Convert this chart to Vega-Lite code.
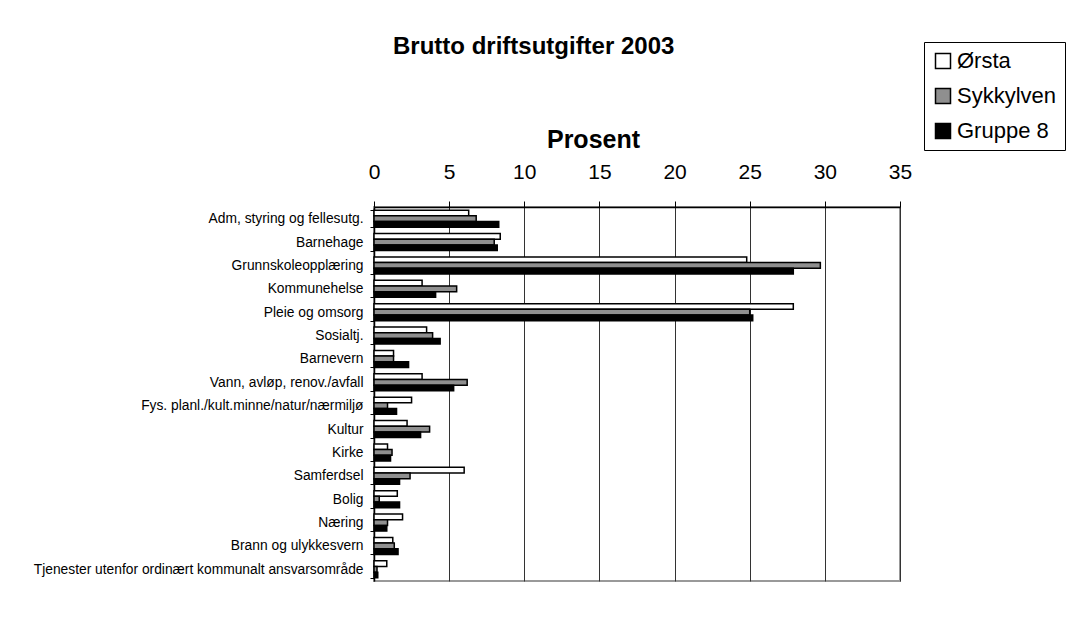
{
  "$schema": "https://vega.github.io/schema/vega-lite/v6.json",
  "width": 526,
  "height": 374,
  "autosize": {"type": "none"},
  "padding": {"left": 374, "top": 207, "right": 178, "bottom": 62},
  "background": "white",
  "title": {
    "text": "Brutto driftsutgifter 2003",
    "anchor": "start",
    "frame": "group",
    "dx": 19,
    "offset": -17,
    "fontSize": 24,
    "fontWeight": "bold",
    "font": "Liberation Sans",
    "color": "black"
  },
  "config": {
    "font": "Liberation Sans",
    "view": {"stroke": "#999999", "strokeWidth": 2}
  },
  "data": {
    "values": [
      {"kategori": "Adm, styring og fellesutg.", "serie": "Ørsta", "verdi": 6.3},
      {"kategori": "Adm, styring og fellesutg.", "serie": "Sykkylven", "verdi": 6.8},
      {"kategori": "Adm, styring og fellesutg.", "serie": "Gruppe 8", "verdi": 8.3},
      {"kategori": "Barnehage", "serie": "Ørsta", "verdi": 8.4},
      {"kategori": "Barnehage", "serie": "Sykkylven", "verdi": 8.0},
      {"kategori": "Barnehage", "serie": "Gruppe 8", "verdi": 8.2},
      {"kategori": "Grunnskoleopplæring", "serie": "Ørsta", "verdi": 24.8},
      {"kategori": "Grunnskoleopplæring", "serie": "Sykkylven", "verdi": 29.7},
      {"kategori": "Grunnskoleopplæring", "serie": "Gruppe 8", "verdi": 27.9},
      {"kategori": "Kommunehelse", "serie": "Ørsta", "verdi": 3.2},
      {"kategori": "Kommunehelse", "serie": "Sykkylven", "verdi": 5.5},
      {"kategori": "Kommunehelse", "serie": "Gruppe 8", "verdi": 4.1},
      {"kategori": "Pleie og omsorg", "serie": "Ørsta", "verdi": 27.9},
      {"kategori": "Pleie og omsorg", "serie": "Sykkylven", "verdi": 25.0},
      {"kategori": "Pleie og omsorg", "serie": "Gruppe 8", "verdi": 25.2},
      {"kategori": "Sosialtj.", "serie": "Ørsta", "verdi": 3.5},
      {"kategori": "Sosialtj.", "serie": "Sykkylven", "verdi": 3.9},
      {"kategori": "Sosialtj.", "serie": "Gruppe 8", "verdi": 4.4},
      {"kategori": "Barnevern", "serie": "Ørsta", "verdi": 1.3},
      {"kategori": "Barnevern", "serie": "Sykkylven", "verdi": 1.3},
      {"kategori": "Barnevern", "serie": "Gruppe 8", "verdi": 2.3},
      {"kategori": "Vann, avløp, renov./avfall", "serie": "Ørsta", "verdi": 3.2},
      {"kategori": "Vann, avløp, renov./avfall", "serie": "Sykkylven", "verdi": 6.2},
      {"kategori": "Vann, avløp, renov./avfall", "serie": "Gruppe 8", "verdi": 5.3},
      {"kategori": "Fys. planl./kult.minne/natur/nærmiljø", "serie": "Ørsta", "verdi": 2.5},
      {"kategori": "Fys. planl./kult.minne/natur/nærmiljø", "serie": "Sykkylven", "verdi": 0.9},
      {"kategori": "Fys. planl./kult.minne/natur/nærmiljø", "serie": "Gruppe 8", "verdi": 1.5},
      {"kategori": "Kultur", "serie": "Ørsta", "verdi": 2.2},
      {"kategori": "Kultur", "serie": "Sykkylven", "verdi": 3.7},
      {"kategori": "Kultur", "serie": "Gruppe 8", "verdi": 3.1},
      {"kategori": "Kirke", "serie": "Ørsta", "verdi": 0.9},
      {"kategori": "Kirke", "serie": "Sykkylven", "verdi": 1.2},
      {"kategori": "Kirke", "serie": "Gruppe 8", "verdi": 1.1},
      {"kategori": "Samferdsel", "serie": "Ørsta", "verdi": 6.0},
      {"kategori": "Samferdsel", "serie": "Sykkylven", "verdi": 2.4},
      {"kategori": "Samferdsel", "serie": "Gruppe 8", "verdi": 1.7},
      {"kategori": "Bolig", "serie": "Ørsta", "verdi": 1.55},
      {"kategori": "Bolig", "serie": "Sykkylven", "verdi": 0.35},
      {"kategori": "Bolig", "serie": "Gruppe 8", "verdi": 1.7},
      {"kategori": "Næring", "serie": "Ørsta", "verdi": 1.9},
      {"kategori": "Næring", "serie": "Sykkylven", "verdi": 0.9},
      {"kategori": "Næring", "serie": "Gruppe 8", "verdi": 0.85},
      {"kategori": "Brann og ulykkesvern", "serie": "Ørsta", "verdi": 1.25},
      {"kategori": "Brann og ulykkesvern", "serie": "Sykkylven", "verdi": 1.35},
      {"kategori": "Brann og ulykkesvern", "serie": "Gruppe 8", "verdi": 1.6},
      {"kategori": "Tjenester utenfor ordinært kommunalt ansvarsområde", "serie": "Ørsta", "verdi": 0.85},
      {"kategori": "Tjenester utenfor ordinært kommunalt ansvarsområde", "serie": "Sykkylven", "verdi": 0.2},
      {"kategori": "Tjenester utenfor ordinært kommunalt ansvarsområde", "serie": "Gruppe 8", "verdi": 0.25}
    ]
  },
  "mark": {"type": "bar", "stroke": "black", "strokeWidth": 1.5},
  "encoding": {
    "y": {
      "field": "kategori",
      "type": "nominal",
      "sort": null,
      "scale": {"paddingInner": 0.27, "paddingOuter": 0.135},
      "axis": {
        "title": null,
        "orient": "left",
        "domainColor": "black",
        "domainWidth": 1.5,
        "tickBand": "extent",
        "tickColor": "black",
        "tickSize": 4,
        "labelFontSize": 13.8,
        "labelColor": "black",
        "labelPadding": 7,
        "labelLimit": 400
      }
    },
    "yOffset": {
      "field": "serie",
      "type": "nominal",
      "sort": ["Ørsta", "Sykkylven", "Gruppe 8"],
      "scale": {"paddingInner": 0, "paddingOuter": 0}
    },
    "x": {
      "field": "verdi",
      "type": "quantitative",
      "scale": {"domain": [0, 35], "nice": false},
      "axis": {
        "orient": "top",
        "values": [0, 5, 10, 15, 20, 25, 30, 35],
        "title": "Prosent",
        "titleFontSize": 25,
        "titleFontWeight": "bold",
        "titleColor": "black",
        "titleX": 219,
        "titleY": -60,
        "titleBaseline": "alphabetic",
        "labelFontSize": 21,
        "labelColor": "black",
        "labelPadding": 19,
        "labelFlush": false,
        "tickSize": 6,
        "tickColor": "black",
        "domainColor": "black",
        "domainWidth": 1.5,
        "grid": true,
        "gridColor": "#333333",
        "gridWidth": 1
      }
    },
    "fill": {
      "field": "serie",
      "type": "nominal",
      "sort": ["Ørsta", "Sykkylven", "Gruppe 8"],
      "scale": {"domain": ["Ørsta", "Sykkylven", "Gruppe 8"], "range": ["#ffffff", "#8f8f8f", "#000000"]},
      "legend": {
        "title": null,
        "orient": "none",
        "legendX": 550,
        "legendY": -165,
        "padding": 8,
        "strokeColor": "black",
        "fillColor": "white",
        "symbolType": "square",
        "symbolSize": 225,
        "symbolStrokeColor": "black",
        "symbolStrokeWidth": 1.5,
        "symbolOffset": 0,
        "labelFontSize": 22,
        "labelColor": "black",
        "labelOffset": 3,
        "rowPadding": 13,
        "labelLimit": 200
      }
    }
  }
}
